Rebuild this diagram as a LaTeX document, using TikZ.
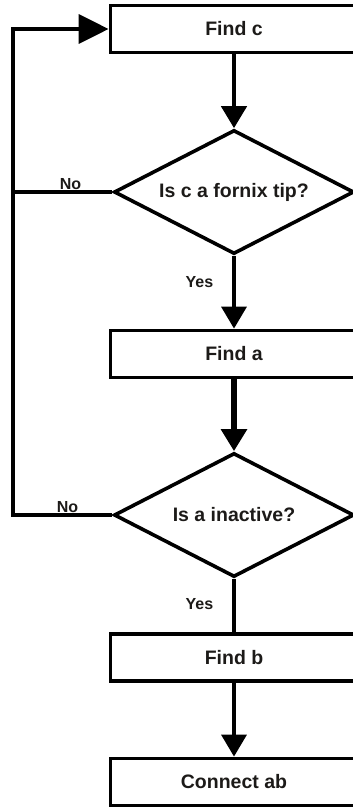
\documentclass[tikz,border=0pt]{standalone}
\usepackage{fontspec}
\setmainfont{Liberation Sans}
\usepackage{tikz}
\usetikzlibrary{arrows.meta}
\usetikzlibrary{shapes.geometric}
\definecolor{fc-text}{HTML}{1C1A18}

\begin{document}
\begin{tikzpicture}[x=1pt, y=-1pt,
    stepbox/.style={draw, line width=3.8pt, minimum width=247pt, minimum height=47pt,
        font=\fontsize{19.5}{22}\selectfont\bfseries, text=fc-text},
    question/.style={draw, diamond, aspect=2, line width=3.6pt, minimum width=240pt, minimum height=124pt,
        inner sep=1pt, font=\fontsize{19.5}{22}\selectfont\bfseries, text=fc-text},
    flow/.style={line width=4.5pt, -{Triangle[length=22pt, width=25pt]}},
    thinflow/.style={line width=3.6pt, -{Triangle[length=22pt, width=25pt]}},
    loopline/.style={line width=3.6pt},
    answer/.style={font=\fontsize{16}{18}\selectfont\bfseries, text=fc-text, inner sep=1pt}]
    \clip (0,0) rectangle (353,809);
    % Steps and questions
    \node[stepbox] (findc) at (234,29) {Find c};
    \node[question] (tip) at (234,192) {Is c a fornix tip?};
    \node[stepbox] (finda) at (234,354) {Find a};
    \node[question] (inactive) at (234,515) {Is a inactive?};
    \node[stepbox] (findb) at (234,657.5) {Find b};
    \node[stepbox] (connect) at (234,782) {Connect ab};
    \coordinate (back) at (13,0);
    % Main line down
    \draw[flow] (findc) -- (tip);
    \draw[thinflow] (tip) -- node[answer, left=18pt, pos=0.36] {Yes} (finda);
    \draw[flow, line width=6pt] (finda) -- (inactive);
    \draw[loopline] (inactive) -- node[answer, left=18pt, pos=0.47] {Yes} (findb);
    \draw[thinflow] (findb) -- (connect);
    % Going back to Find c
    \draw[loopline, -{Triangle[length=30pt, width=29pt]}] (tip.west)
        -- node[answer, anchor=south, pos=0.42] {No} (tip.west -| back)
        -- (back |- findc.west) -- (findc.west);
    \draw[loopline] (inactive.west)
        -- node[answer, anchor=south, pos=0.45] {No} (inactive.west -| back)
        -- (tip.west -| back);
\end{tikzpicture}
\end{document}
